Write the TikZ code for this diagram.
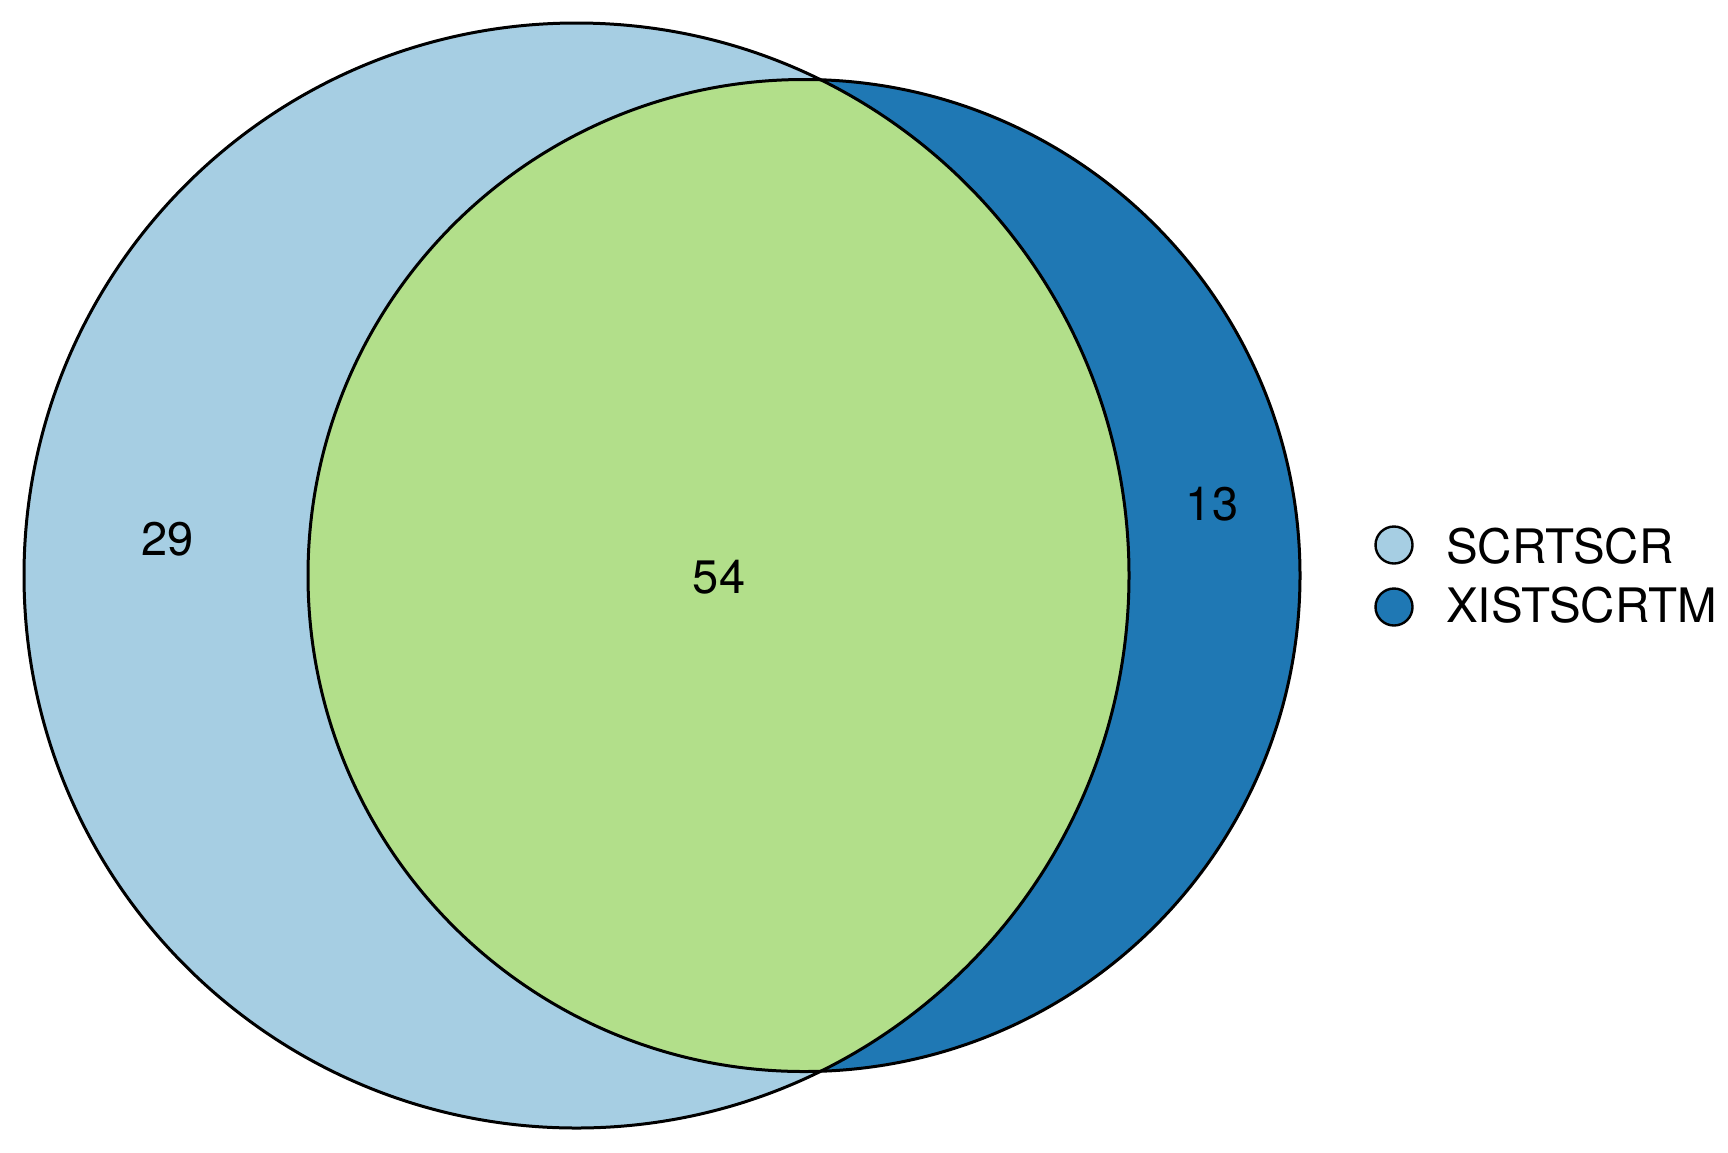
\documentclass[tikz,border=0pt]{standalone}
\usepackage{fontspec}
\setmainfont{TeX Gyre Heros}
\definecolor{setA}{HTML}{A6CEE3}
\definecolor{setB}{HTML}{1F78B4}
\definecolor{setAB}{HTML}{B2DF8A}
\tikzset{
  outline/.style={draw=black, line width=3pt},
  count/.style={inner sep=0pt, anchor=base, font=\fontsize{47}{50}\selectfont},
  legtext/.style={inner sep=0pt, anchor=base west, font=\fontsize{47.5}{52}\selectfont},
  legdot/.style={draw=black, line width=2.4pt, circle, minimum size=37pt, inner sep=0pt}
}
\begin{document}
\begin{tikzpicture}[x=1pt,y=-1pt]
\useasboundingbox (0,0) rectangle (1728,1152);
\coordinate (cA) at (576.5,575.5);
\coordinate (cB) at (804,575.5);
\fill[setA] (cA) circle[radius=552.5];
\fill[setB] (cB) circle[radius=496];
\begin{scope}
  \clip (cA) circle[radius=552.5];
  \fill[setAB] (cB) circle[radius=496];
\end{scope}
\draw[outline] (cA) circle[radius=552.5];
\draw[outline] (cB) circle[radius=496];
\node[count] (nA) at (167.5,555) {29};
\node[count] (nAB) at (719,593) {54};
\node[count] (nB) at (1212,520) {13};
\node[legdot, fill=setA] (dA) at (1394,545) {};
\node[legdot, fill=setB] (dB) at (1394,607) {};
\node[legtext] (tA) at (1446,563) {SCRTSCR};
\node[legtext] (tB) at (1446,622) {XISTSCRTM};
\end{tikzpicture}
\end{document}
